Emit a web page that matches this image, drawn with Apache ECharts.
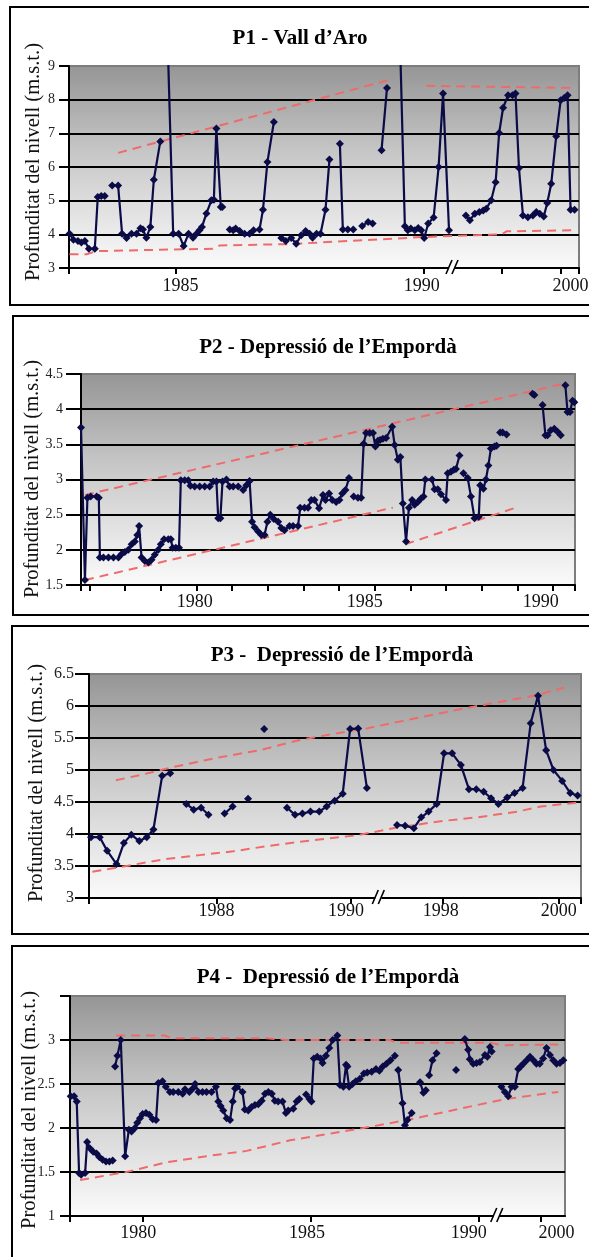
<!DOCTYPE html>
<html><head><meta charset="utf-8">
<script src="https://cdn.jsdelivr.net/npm/echarts@6/dist/echarts.min.js"></script>
<style>html,body{margin:0;padding:0;background:#fff;}#c{width:589px;height:1257px;}</style>
</head><body><div id="c"></div>
<script>
// ---------------- DATA ----------------
const yName = 'Profunditat del nivell (m.s.t.)';
const titles = ['P1 - Vall d\u2019Aro', 'P2 - Depressi\u00f3 de l\u2019Empord\u00e0', 'P3 -  Depressi\u00f3 de l\u2019Empord\u00e0', 'P4 -  Depressi\u00f3 de l\u2019Empord\u00e0'];

// P1 - Vall d'Aro  [axis year, depth]; null = gap
const p1Level = [
[1982.86,4.02],[1982.94,3.84],[1983.03,3.80],[1983.10,3.76],[1983.17,3.80],[1983.25,3.57],[1983.37,3.57],[1983.43,5.11],[1983.50,5.14],[1983.57,5.14],null,
[1983.72,5.45],[1983.84,5.45],[1983.92,4.02],[1984.01,3.89],[1984.11,4.02],[1984.21,4.02],[1984.29,4.18],[1984.34,4.14],[1984.41,3.90],[1984.49,4.22],[1984.56,5.62],[1984.69,6.76],null,
[1984.82,10.7],[1984.95,4.02],[1985.06,4.02],[1985.16,3.65],[1985.26,4.02],[1985.35,3.90],[1985.42,4.02],[1985.48,4.12],[1985.53,4.22],[1985.62,4.62],[1985.72,5.01],[1985.77,5.03],[1985.82,7.14],[1985.91,4.81],[1985.94,4.81],null,
[1986.09,4.14],[1986.16,4.12],[1986.21,4.17],[1986.29,4.10],[1986.39,4.02],[1986.49,4.02],[1986.57,4.12],[1986.69,4.14],[1986.76,4.73],[1986.85,6.15],[1986.98,7.34],null,
[1987.13,3.89],[1987.22,3.80],[1987.33,3.89],[1987.43,3.72],[1987.53,3.97],[1987.62,4.10],[1987.70,4.02],[1987.76,3.90],[1987.84,4.02],[1987.92,4.02],[1988.02,4.73],[1988.10,6.22],null,
[1988.31,6.69],[1988.37,4.14],[1988.47,4.14],[1988.58,4.14],null,
[1988.76,4.25],[1988.88,4.37],[1988.97,4.32],null,
[1989.15,6.50],[1989.26,8.35],null,
[1989.50,11.0],[1989.62,4.24],[1989.68,4.12],[1989.74,4.17],[1989.82,4.12],[1989.89,4.19],[1989.95,4.12],[1990.01,3.89],[1990.09,4.32],[1990.20,4.50],[1990.30,6.00],[1990.39,8.18],[1990.51,4.12],null,
[1990.85,4.56],[1990.93,4.42],[1991.03,4.61],[1991.12,4.66],[1991.20,4.71],[1991.26,4.76],[1991.36,5.01],[1991.45,5.55],[1991.52,7.01],[1991.60,7.76],[1991.70,8.13],[1991.79,8.13],[1991.85,8.18],[1991.92,5.97],[1992.00,4.56],[1992.10,4.51],[1992.20,4.56],[1992.27,4.66],[1992.34,4.61],[1992.42,4.53],[1992.49,4.93],[1992.57,5.50],[1992.67,6.91],[1992.76,7.98],[1992.83,8.05],[1992.90,8.13],[1992.96,4.73],[1993.04,4.73]
];
const p1UpperA = [[1983.84,6.42],[1989.31,8.59]];
const p1UpperB = [[1990.05,8.41],[1993.00,8.35]];
const p1Lower = [[1982.86,3.41],[1983.21,3.41],[1983.40,3.50],[1984.95,3.55],[1985.75,3.57],[1985.89,3.67],[1987.30,3.71],[1990.00,3.92],[1991.57,4.00],[1991.67,4.09],[1993.00,4.12]];
const p1TickPos = [1982.85,1985,1990,1991.58,1992.76,1993.13];
const p1LabelPos = [1985.1,1989.96,1992.96];
const p1LabelText = ['1985','1990','2000'];

// P2
const p2Level = [
[1976.76,3.74],[1976.87,1.57],[1976.94,2.74],[1977.03,2.76],[1977.20,2.76],[1977.26,2.74],[1977.29,1.89],[1977.39,1.89],[1977.53,1.89],[1977.67,1.89],[1977.81,1.89],[1977.90,1.94],[1977.99,1.97],[1978.09,2.00],[1978.18,2.08],[1978.27,2.12],[1978.34,2.21],[1978.39,2.34],[1978.46,1.89],[1978.55,1.84],[1978.65,1.82],[1978.74,1.86],[1978.83,1.93],[1978.93,2.00],[1979.00,2.08],[1979.09,2.15],[1979.21,2.15],[1979.28,2.15],[1979.33,2.03],[1979.42,2.03],[1979.51,2.03],[1979.56,2.99],[1979.67,2.99],[1979.77,2.99],[1979.83,2.91],[1979.95,2.90],[1980.09,2.90],[1980.23,2.90],[1980.37,2.90],[1980.47,2.97],[1980.56,2.97],[1980.61,2.45],[1980.67,2.45],[1980.73,2.97],[1980.84,3.00],[1980.93,2.90],[1981.03,2.90],[1981.17,2.90],null,
[1981.31,2.85],[1981.40,2.92],[1981.49,2.98],[1981.56,2.40],[1981.63,2.32],[1981.73,2.26],[1981.82,2.21],[1981.91,2.21],[1981.99,2.40],[1982.07,2.50],[1982.17,2.44],[1982.29,2.40],[1982.38,2.31],[1982.47,2.28],[1982.61,2.34],[1982.71,2.34],[1982.85,2.34],[1982.91,2.60],[1983.03,2.60],[1983.13,2.60],[1983.22,2.71],[1983.31,2.71],[1983.44,2.59],[1983.55,2.78],[1983.62,2.71],[1983.72,2.80],[1983.81,2.71],[1983.92,2.68],[1984.01,2.71],[1984.09,2.80],[1984.18,2.85],[1984.28,3.02],null,
[1984.41,2.76],[1984.53,2.74],[1984.62,2.74],[1984.69,3.51],[1984.76,3.66],[1984.86,3.66],[1984.95,3.66],[1985.02,3.47],[1985.09,3.55],[1985.15,3.56],[1985.23,3.58],[1985.32,3.59],[1985.49,3.75],[1985.56,3.49],[1985.65,3.28],[1985.72,3.32],[1985.79,2.66],[1985.88,2.12],[1985.96,2.60],[1986.05,2.71],[1986.12,2.64],[1986.21,2.68],[1986.30,2.73],[1986.37,2.76],[1986.42,3.00],[1986.61,3.00],[1986.68,2.86],[1986.77,2.86],[1986.86,2.79],[1987.00,2.71],[1987.05,3.09],[1987.14,3.11],[1987.22,3.14],[1987.28,3.15],[1987.38,3.34],null,
[1987.49,3.09],[1987.61,3.02],[1987.70,2.76],[1987.80,2.45],[1987.92,2.47],[1987.96,2.92],[1988.05,2.87],[1988.12,3.00],[1988.19,3.20],[1988.26,3.44],[1988.36,3.47],[1988.42,3.48],null,
[1988.52,3.67],[1988.59,3.67],[1988.70,3.64],null,
[1989.43,4.22],[1989.48,4.20],null,
[1989.71,4.06],[1989.79,3.63],[1989.85,3.63],[1989.94,3.70],[1990.04,3.72],[1990.13,3.68],[1990.22,3.63],null,
[1990.35,4.34],[1990.41,3.96],[1990.48,3.96],[1990.55,4.12],[1990.60,4.10]
];
const p2Upper = [[1976.87,2.78],[1990.36,4.37]];
const p2LowerA = [[1976.87,1.57],[1985.51,2.60]];
const p2LowerB = [[1985.86,2.08],[1988.96,2.60]];
const p2TickPos = [1976.76,1977,1978,1979,1980,1981,1982,1983,1984,1985,1986,1987,1988,1989,1990,1990.62];
const p2LabelPos = [1979.95,1984.72,1989.66];
const p2LabelText = ['1980','1985','1990'];

// P3
const p3Level = [
[1986.13,3.95],[1986.26,3.95],[1986.37,3.74],[1986.51,3.53],[1986.62,3.86],[1986.73,3.99],[1986.85,3.89],[1986.96,3.95],[1987.06,4.07],[1987.19,4.91],[1987.31,4.95],null,
[1987.55,4.47],[1987.66,4.38],[1987.77,4.41],[1987.88,4.30],null,
[1988.12,4.32],[1988.24,4.43],null,
[1988.47,4.55],null,
[1988.71,5.64],null,
[1989.05,4.41],[1989.17,4.30],[1989.28,4.32],[1989.40,4.35],[1989.53,4.35],[1989.64,4.43],[1989.76,4.52],[1989.88,4.63],[1989.99,5.64],[1990.11,5.65],[1990.24,4.72],null,
[1990.69,4.14],[1990.81,4.13],[1990.94,4.09],[1991.05,4.26],[1991.16,4.35],[1991.28,4.47],[1991.39,5.26],[1991.51,5.26],[1991.64,5.08],[1991.76,4.70],[1991.87,4.70],[1991.98,4.66],[1992.09,4.56],[1992.20,4.47],[1992.33,4.57],[1992.44,4.64],[1992.56,4.72],[1992.68,5.73],[1992.79,6.16],[1992.91,5.31],[1993.02,5.00],[1993.15,4.83],[1993.27,4.64],[1993.38,4.60]
];
const p3Upper = [[1986.50,4.84],[1986.86,4.92],[1987.33,5.04],[1988.00,5.19],[1988.65,5.31],[1989.24,5.47],[1989.99,5.61],[1990.24,5.65],[1990.74,5.76],[1991.39,5.90],[1991.88,6.00],[1992.78,6.17],[1993.18,6.29]];
const p3Lower = [[1986.15,3.41],[1986.76,3.52],[1987.25,3.61],[1987.75,3.67],[1988.25,3.73],[1988.75,3.81],[1989.24,3.88],[1990.09,3.98],[1990.69,4.10],[1991.34,4.20],[1991.88,4.26],[1992.48,4.35],[1992.83,4.43],[1993.37,4.49]];
const p3TickPos = [1986.10,1988,1990,1991.373,1993.099,1993.43];
const p3LabelPos = [1988,1989.93,1991.34,1993.10];
const p3LabelText = ['1988','1990','1998','2000'];

// P4
const p4Level = [
[1977.86,2.36],[1977.96,2.36],[1978.04,2.30],[1978.11,1.49],[1978.17,1.47],[1978.29,1.49],[1978.35,1.84],[1978.43,1.77],[1978.53,1.73],[1978.63,1.71],[1978.71,1.67],[1978.81,1.64],[1978.91,1.62],[1979.01,1.62],[1979.11,1.63],null,
[1979.18,2.70],[1979.25,2.82],[1979.35,3.00],[1979.48,1.68],[1979.59,1.98],[1979.67,1.96],[1979.77,2.00],[1979.84,2.06],[1979.92,2.11],[1980.00,2.16],[1980.10,2.17],[1980.20,2.15],[1980.30,2.10],[1980.40,2.09],[1980.47,2.51],[1980.59,2.53],[1980.69,2.47],[1980.81,2.41],[1980.91,2.41],[1981.06,2.41],[1981.19,2.39],[1981.26,2.44],[1981.39,2.41],[1981.49,2.45],[1981.56,2.50],[1981.66,2.41],[1981.78,2.41],[1981.90,2.41],[1982.05,2.41],[1982.18,2.47],[1982.25,2.30],[1982.32,2.25],[1982.40,2.20],[1982.50,2.11],[1982.60,2.09],[1982.68,2.30],[1982.75,2.45],[1982.81,2.47],[1982.97,2.41],[1983.04,2.21],[1983.14,2.20],[1983.24,2.24],[1983.34,2.26],[1983.44,2.27],[1983.54,2.31],[1983.64,2.39],[1983.74,2.41],[1983.84,2.39],[1983.93,2.31],[1984.03,2.30],[1984.16,2.30],[1984.26,2.17],[1984.33,2.20],[1984.48,2.22],[1984.58,2.30],[1984.66,2.33],null,
[1984.86,2.38],[1984.96,2.33],[1985.02,2.30],[1985.09,2.79],[1985.19,2.81],[1985.29,2.79],[1985.35,2.74],[1985.45,2.82],[1985.55,2.91],[1985.65,3.00],[1985.79,3.05],[1985.87,2.49],[1985.97,2.47],[1986.05,2.72],[1986.09,2.70],[1986.14,2.47],[1986.24,2.50],[1986.34,2.53],[1986.46,2.56],[1986.58,2.62],[1986.68,2.63],[1986.81,2.64],[1986.94,2.67],[1987.04,2.65],[1987.14,2.70],[1987.25,2.73],[1987.37,2.77],[1987.50,2.82],null,
[1987.60,2.66],[1987.73,2.28],[1987.80,2.03],[1987.87,2.09],[1988.00,2.17],null,
[1988.25,2.52],[1988.35,2.40],[1988.42,2.43],null,
[1988.52,2.60],[1988.62,2.77],[1988.74,2.85],null,
[1989.32,2.66],null,
[1989.58,3.01],[1989.68,2.89],[1989.73,2.78],[1989.83,2.73],[1989.93,2.74],[1990.03,2.75],[1990.18,2.83],[1990.25,2.81],[1990.33,2.92],[1990.38,2.87],null,
[1990.67,2.47],[1990.77,2.41],[1990.87,2.36],[1990.97,2.47],[1991.07,2.47],[1991.17,2.67],[1991.24,2.70],[1991.32,2.73],[1991.42,2.77],[1991.52,2.81],[1991.62,2.77],[1991.71,2.73],[1991.81,2.73],[1991.91,2.79],[1992.01,2.91],[1992.11,2.83],[1992.21,2.77],[1992.31,2.73],[1992.41,2.74],[1992.51,2.77]
];
const p4Upper = [[1979.21,3.05],[1980.66,3.05],[1980.86,3.02],[1983.69,3.02],[1984.23,3.00],[1987.35,3.00],[1987.55,2.97],[1990.33,2.97],[1990.72,2.94],[1992.36,2.95]];
const p4Lower = [[1978.14,1.41],[1979.52,1.50],[1980.71,1.61],[1981.90,1.68],[1983.09,1.74],[1984.38,1.86],[1986.56,2.00],[1987.85,2.09],[1988.84,2.17],[1989.93,2.26],[1990.82,2.33],[1992.36,2.41]];
const p4TickPos = [1977.84,1980,1985,1990,1991.84];
const p4LabelPos = [1979.87,1984.89,1989.70,1992.31];
const p4LabelText = ['1980','1985','1990','2000'];

// ---------------- LAYOUT / STYLE ----------------
const FONT = '"Liberation Serif","Times New Roman",serif';
const panels = [
  {title:titles[0], tx:300, ty:39, box:[10,7,640,298], grid:[69,66,510,202], xr:[1982.85,1993.13], ticks:p1TickPos, lp:p1LabelPos, lt:p1LabelText, yr:[3,9,1], level:p1Level, env:[p1UpperA,p1UpperB,p1Lower], brk:1990.57, nx:34, ny:162, yTick:10, yMargin:14, yFont:14, xFont:18, xMargin:9, hideTop:false},
  {title:titles[1], tx:328, ty:348, box:[13,316,640,299], grid:[81,374,494,211], xr:[1976.76,1990.62], ticks:p2TickPos, lp:p2LabelPos, lt:p2LabelText, yr:[1.5,4.5,0.5], level:p2Level, env:[p2Upper,p2LowerA,p2LowerB], brk:null, nx:33, ny:479, yTick:15, yMargin:18, yFont:14, xFont:18, xMargin:8, hideTop:false},
  {title:titles[2], tx:342, ty:656, box:[12,626,640,308], grid:[89,674,492,224], xr:[1986.10,1993.43], ticks:p3TickPos, lp:p3LabelPos, lt:p3LabelText, yr:[3,6.5,0.5], level:p3Level, env:[p3Upper,p3Lower], brk:1990.41, nx:37, ny:783, yTick:14, yMargin:15, yFont:16, xFont:18, xMargin:4, hideTop:false},
  {title:titles[3], tx:328, ty:978, box:[12,946,640,340], grid:[70,996,495,220], xr:[1977.84,1992.56], ticks:p4TickPos, lp:p4LabelPos, lt:p4LabelText, yr:[1,3.5,0.5], level:p4Level, env:[p4Upper,p4Lower], brk:1990.53, nx:30, ny:1110, yTick:10, yMargin:15, yFont:14, xFont:18, xMargin:8, hideTop:true}
];

const bgGrad = {type:'linear', x:0, y:0, x2:0, y2:1, colorStops:[
  {offset:0, color:'#959595'}, {offset:0.45, color:'#c9c9c9'}, {offset:1, color:'#fbfbfb'}]};
const LINE = '#0b0b48', RED = '#ef6b6b';

function toLine(arr){
  const out = []; let lastX = null;
  arr.forEach(d => { if (d === null) out.push([lastX, '-']); else { out.push(d); lastX = d[0]; } });
  return out;
}

const grid = [], xAxis = [], yAxis = [], series = [], graphic = [];
panels.forEach((p, i) => {
  grid.push({left:p.grid[0], top:p.grid[1], width:p.grid[2], height:p.grid[3], show:true,
    backgroundColor:bgGrad, borderColor:'#7d7d7d', borderWidth:2, containLabel:false, outerBoundsMode:'none'});
  xAxis.push({gridIndex:i, type:'value', min:p.xr[0], max:p.xr[1],
    axisLine:{show:true, onZero:false, lineStyle:{color:'#000', width:2}},
    axisTick:{show:true, customValues:p.ticks, length:6, lineStyle:{color:'#000', width:2}},
    axisLabel:{show:true, customValues:p.lp, margin:p.xMargin, color:'#111', fontFamily:FONT, fontSize:p.xFont,
      formatter:(v) => { const k = p.lp.findIndex(q => Math.abs(q - v) < 1e-6); return k >= 0 ? p.lt[k] : ''; }},
    splitLine:{show:false}});
  yAxis.push({gridIndex:i, type:'value', min:p.yr[0], max:p.yr[1], interval:p.yr[2],
    axisLine:{show:true, onZero:false, lineStyle:{color:'#000', width:2}},
    axisTick:{show:true, length:p.yTick, lineStyle:{color:'#000', width:2}},
    axisLabel:{margin:p.yMargin, color:'#222', fontFamily:FONT, fontSize:p.yFont,
      formatter:(v) => (p.hideTop && Math.abs(v - p.yr[1]) < 1e-9) ? '' : String(v)},
    splitLine:{show:true, showMinLine:false, showMaxLine:false, lineStyle:{color:'#000', width:2}}});
  p.env.forEach(e => series.push({type:'line', xAxisIndex:i, yAxisIndex:i, data:e, symbol:'none', silent:true, z:3,
    lineStyle:{color:RED, width:2, type:[9,6]}}));
  series.push({type:'line', xAxisIndex:i, yAxisIndex:i, data:toLine(p.level), connectNulls:false, clip:true,
    symbol:'diamond', symbolSize:8, z:4, silent:true,
    itemStyle:{color:LINE}, lineStyle:{color:LINE, width:2.2}});
  if (p.brk !== null) {
    series.push({type:'custom', xAxisIndex:i, yAxisIndex:i, data:[[p.brk, p.yr[0]]], silent:true, z:10, clip:false,
      renderItem:(params, api) => {
        const c = api.coord([api.value(0), api.value(1)]);
        const mk = (d) => ({type:'line', shape:{x1:c[0]+d-3, y1:c[1]+6, x2:c[0]+d+3, y2:c[1]-8}, style:{stroke:'#000', lineWidth:1.6}});
        return {type:'group', children:[
          {type:'rect', shape:{x:c[0]-3, y:c[1]-2, width:6, height:4}, style:{fill:'#fff'}},
          mk(-3), mk(3)]};
      }});
  }
  graphic.push({type:'rect', shape:{x:p.box[0], y:p.box[1], width:p.box[2], height:p.box[3]}, style:{fill:'none', stroke:'#000', lineWidth:2}, silent:true, z:0});
  graphic.push({type:'text', x:p.tx, y:p.ty, silent:true, style:{text:p.title, font:'bold 21px ' + FONT, fill:'#000',
    align:'center', verticalAlign:'middle', textAlign:'center', textVerticalAlign:'middle'}});
  graphic.push({type:'text', x:p.nx, y:p.ny, rotation:Math.PI/2, silent:true, style:{text:yName, font:'20.5px ' + FONT, fill:'#111',
    align:'center', verticalAlign:'middle', textAlign:'center', textVerticalAlign:'middle'}});
});

const chart = echarts.init(document.getElementById('c'), null, {renderer:'canvas', width:589, height:1257});
chart.setOption({animation:false, backgroundColor:'#fff', grid, xAxis, yAxis, series, graphic});
</script></body></html>
